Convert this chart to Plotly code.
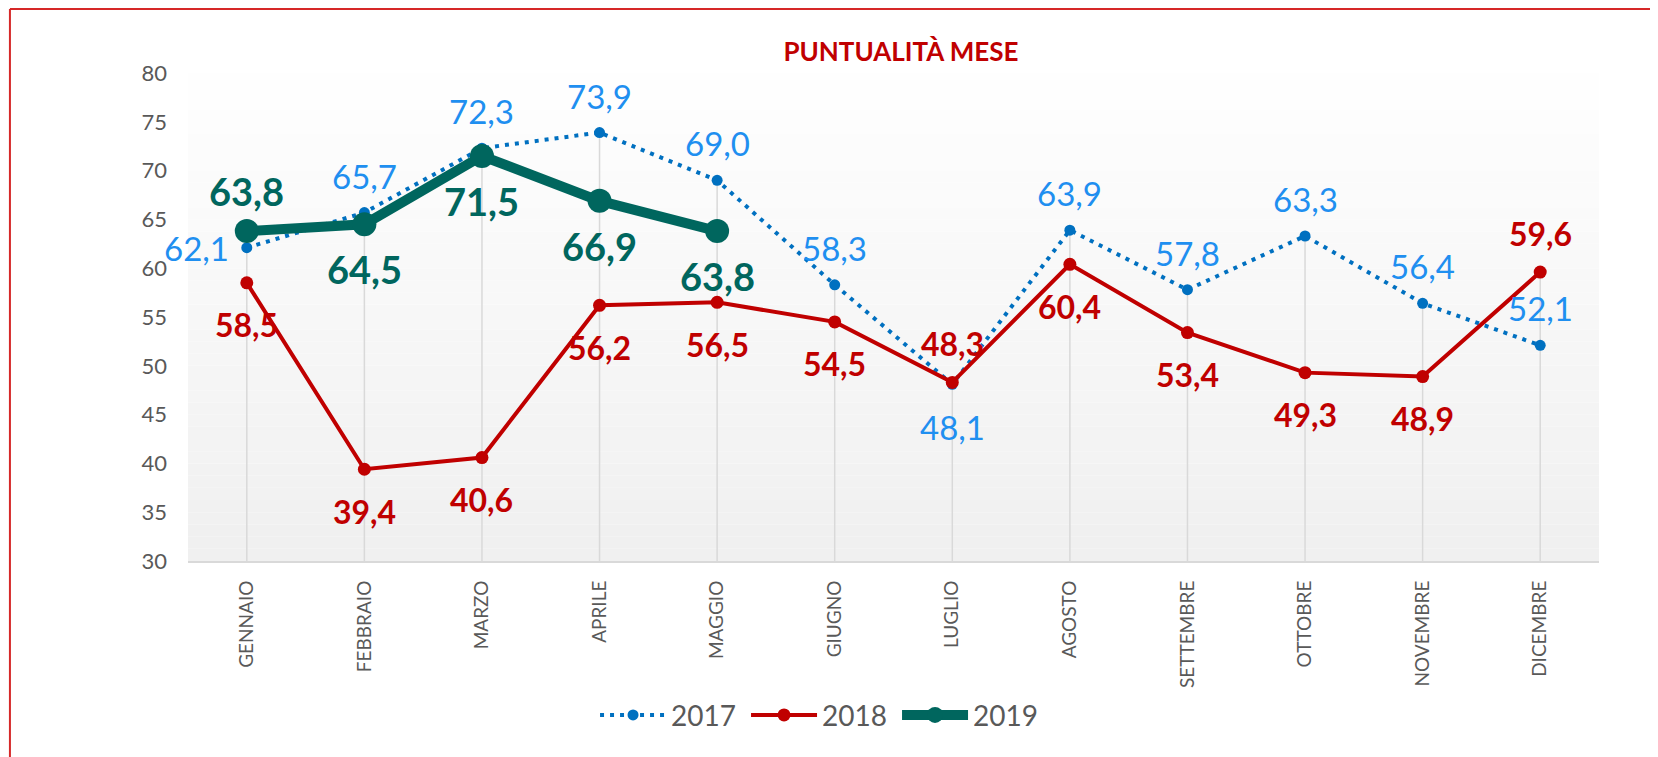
import plotly.graph_objects as go

months = ["GENNAIO", "FEBBRAIO", "MARZO", "APRILE", "MAGGIO", "GIUGNO",
          "LUGLIO", "AGOSTO", "SETTEMBRE", "OTTOBRE", "NOVEMBRE", "DICEMBRE"]
v2017 = [62.1, 65.7, 72.3, 73.9, 69.0, 58.3, 48.1, 63.9, 57.8, 63.3, 56.4, 52.1]
v2018 = [58.5, 39.4, 40.6, 56.2, 56.5, 54.5, 48.3, 60.4, 53.4, 49.3, 48.9, 59.6]
v2019 = [63.8, 64.5, 71.5, 66.9, 63.8]
y_ticks = [30, 35, 40, 45, 50, 55, 60, 65, 70, 75, 80]

# label placement (style)
pos2017 = ["left", "top", "top", "top", "top", "top", "bottom", "top", "top", "top", "top", "top"]
pos2018 = ["bottom", "bottom", "bottom", "bottom", "bottom", "bottom", "top", "bottom", "bottom", "bottom", "bottom", "top"]
pos2019 = ["top", "bottom", "bottom", "bottom", "bottom"]

C17_LINE = "#0070C0"
C17_TEXT = "#1F8FF0"
C18 = "#C00000"
C19 = "#00665E"
GRAY_TXT = "#595959"
FONT = "Lato"

fig = go.Figure()

# gradient plot background (bands)
nb = 40
for k in range(nb):
    y0 = k / nb
    y1 = (k + 1) / nb
    c = int(240 + 15 * (k + 0.5) / nb)
    fig.add_shape(type="rect", xref="paper", yref="paper", x0=0, x1=1, y0=y0, y1=y1,
                  fillcolor=f"rgb({c},{c},{c})", line=dict(width=0), layer="below")

# drop lines from highest point to axis
ymin = y_ticks[0]
dx, dy = [], []
for i, m in enumerate(months):
    vals = [v2017[i], v2018[i]] + ([v2019[i]] if i < len(v2019) else [])
    dx += [m, m, None]
    dy += [ymin, max(vals), None]
fig.add_trace(go.Scatter(x=dx, y=dy, mode="lines", line=dict(color="#D9D9D9", width=1.5),
                         showlegend=False, hoverinfo="skip"))

fig.add_trace(go.Scatter(x=months, y=v2017, name="2017", mode="lines+markers",
                         line=dict(color=C17_LINE, width=4, dash="4px,6px"),
                         marker=dict(color=C17_LINE, size=11)))
fig.add_trace(go.Scatter(x=months, y=v2018, name="2018", mode="lines+markers",
                         line=dict(color=C18, width=4),
                         marker=dict(color=C18, size=13)))
fig.add_trace(go.Scatter(x=months[:len(v2019)], y=v2019, name="2019", mode="lines+markers",
                         line=dict(color=C19, width=10),
                         marker=dict(color=C19, size=24)))


def fmt(v):
    return f"{v:.1f}".replace(".", ",")


def add_labels(xs, vals, pos, color, size, bold, up, down):
    for x, v, p in zip(xs, vals, pos):
        kw = dict(x=x, y=v, xref="x", yref="y", text=fmt(v), showarrow=False,
                  font=dict(family=FONT, size=size, color=color,
                            weight="bold" if bold else "normal"))
        if p == "top":
            kw.update(yshift=up, xanchor="center", yanchor="middle")
        elif p == "bottom":
            kw.update(yshift=-down, xanchor="center", yanchor="middle")
        else:
            kw.update(xshift=-16, xanchor="right", yanchor="middle")
        fig.add_annotation(**kw)


add_labels(months, v2017, pos2017, C17_TEXT, 33, False, 37, 43)
add_labels(months, v2018, pos2018, C18, 32, True, 39, 42)
add_labels(months[:len(v2019)], v2019, pos2019, C19, 38, True, 40, 45)

# border (page has an 8px body margin, so the figure starts at 8,8)
fig.add_shape(type="line", xref="paper", yref="paper", x0=-0.1262, x1=1.05, y0=1.1311, y1=1.1311,
              line=dict(color="#D62828", width=2))
fig.add_shape(type="line", xref="paper", yref="paper", x0=-0.1262, x1=-0.1262, y0=1.1311, y1=-0.42,
              line=dict(color="#D62828", width=2))

fig.update_layout(
    width=1650, height=749,
    margin=dict(l=180, r=59, t=65, b=196),
    paper_bgcolor="white", plot_bgcolor="rgba(0,0,0,0)",
    title=dict(text="PUNTUALITÀ MESE", x=0.5053, xref="paper", y=0.9413, yref="container",
               xanchor="center", yanchor="middle",
               font=dict(family=FONT, size=26, color=C18, weight="bold")),
    legend=dict(orientation="h", x=0.449, xanchor="center", y=-0.316, yanchor="middle",
                font=dict(family=FONT, size=28, color=GRAY_TXT), itemwidth=66,
                entrywidth=70, bgcolor="rgba(0,0,0,0)"),
    xaxis=dict(type="category", categoryorder="array", categoryarray=months,
               range=[-0.5, len(months) - 0.5], showgrid=False, showline=True,
               linecolor="#D9D9D9", linewidth=2, tickangle=-90, ticks="",
               tickfont=dict(family=FONT, size=19, color=GRAY_TXT), ticklabelstandoff=10),
    yaxis=dict(range=[y_ticks[0], y_ticks[-1]], tickvals=y_ticks, showgrid=False,
               zeroline=False, showline=False, ticks="",
               tickfont=dict(family=FONT, size=22, color=GRAY_TXT), ticklabelstandoff=20),
    showlegend=True,
)

fig.write_html("out.html")
